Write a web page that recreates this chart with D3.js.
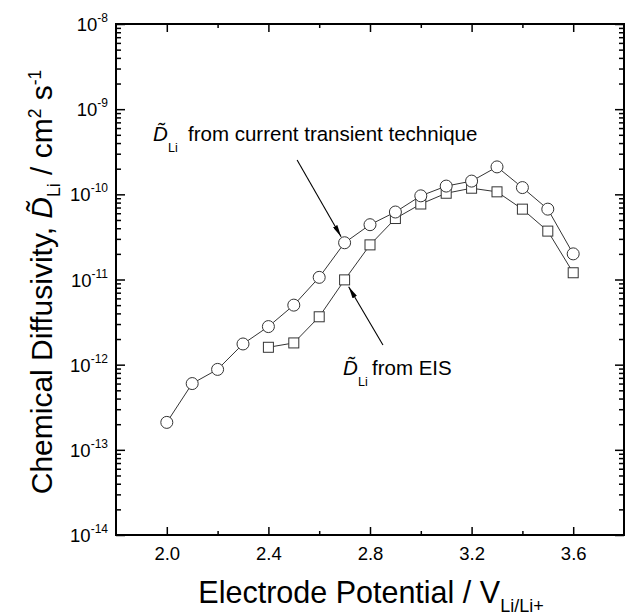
<!DOCTYPE html>
<html>
<head>
<meta charset="utf-8">
<script src="https://cdn.jsdelivr.net/npm/d3@7"></script>
<style>
  body { margin: 0; background: #fff; }
  text { font-family: "Liberation Sans", Arial, Helvetica, sans-serif; fill: #000; }
</style>
</head>
<body>
<svg id="chart" width="625" height="615"></svg>
<script>
// --- data ---
const potentialCT = [2.0, 2.1, 2.2, 2.3, 2.4, 2.5, 2.6, 2.7, 2.8, 2.9, 3.0, 3.1, 3.2, 3.3, 3.4, 3.5, 3.6];
const diffCT = [2.1e-13, 6.0e-13, 8.8e-13, 1.75e-12, 2.8e-12, 5.0e-12, 1.06e-11, 2.7e-11, 4.4e-11,
                6.2e-11, 9.6e-11, 1.25e-10, 1.43e-10, 2.1e-10, 1.2e-10, 6.7e-11, 2.0e-11];
const potentialEIS = [2.4, 2.5, 2.6, 2.7, 2.8, 2.9, 3.0, 3.1, 3.2, 3.3, 3.4, 3.5, 3.6];
const diffEIS = [1.6e-12, 1.8e-12, 3.65e-12, 9.9e-12, 2.55e-11, 5.2e-11, 7.7e-11,
                 1.03e-10, 1.18e-10, 1.07e-10, 6.7e-11, 3.7e-11, 1.2e-11];

const xMajor = [2.0, 2.4, 2.8, 3.2, 3.6];
const xTickLabels = ['2.0', '2.4', '2.8', '3.2', '3.6'];
const xMinor = [2.2, 2.6, 3.0, 3.4];
const yExponents = [-14, -13, -12, -11, -10, -9, -8];

// annotation anchors (data units): arrow tail, and the point it points at
const arrowCT = { from: [2.513, 2.53e-10], idx: 7 };
const arrowEIS = { from: [2.851, 1.70e-12], idx: 3 };

const svg = d3.select('#chart');
const x = d3.scaleLinear().domain([1.8, 3.8]).range([116, 624]);
const y = d3.scaleLog().domain([1e-14, 1e-8]).range([535, 24]);

function styleAxis(g) {
  g.select('.domain').remove();
  g.selectAll('line').attr('stroke', '#000').attr('stroke-width', 1.5);
}

const yMinor = y.ticks().filter(v => !yExponents.some(e => Math.abs(Math.log10(v) - e) < 1e-6));
const yMajor = yExponents.map(e => Math.pow(10, e));

// bottom
svg.append('g').attr('transform', 'translate(0,535)')
  .call(d3.axisBottom(x).tickValues(xMajor).tickFormat((d, i) => xTickLabels[i]).tickSize(-8).tickPadding(12))
  .attr('font-size', 18.5)
  .call(styleAxis);
svg.append('g').attr('transform', 'translate(0,535)')
  .call(d3.axisBottom(x).tickValues(xMinor).tickFormat('').tickSize(-4))
  .call(styleAxis);
// top
svg.append('g').attr('transform', 'translate(0,24)')
  .call(d3.axisTop(x).tickValues(xMajor).tickFormat('').tickSize(-8))
  .call(styleAxis);
svg.append('g').attr('transform', 'translate(0,24)')
  .call(d3.axisTop(x).tickValues(xMinor).tickFormat('').tickSize(-4))
  .call(styleAxis);
// left
svg.append('g').attr('transform', 'translate(116,0)')
  .call(d3.axisLeft(y).tickValues(yMajor).tickFormat('').tickSize(-9))
  .call(styleAxis);
svg.append('g').attr('transform', 'translate(116,0)')
  .call(d3.axisLeft(y).tickValues(yMinor).tickFormat('').tickSize(-5))
  .call(styleAxis);
// right
svg.append('g').attr('transform', 'translate(624,0)')
  .call(d3.axisRight(y).tickValues(yMajor).tickFormat('').tickSize(-9))
  .call(styleAxis);
svg.append('g').attr('transform', 'translate(624,0)')
  .call(d3.axisRight(y).tickValues(yMinor).tickFormat('').tickSize(-5))
  .call(styleAxis);

// frame
svg.append('rect')
  .attr('x', x(1.8)).attr('y', y(1e-8))
  .attr('width', x(3.8) - x(1.8)).attr('height', y(1e-14) - y(1e-8))
  .attr('fill', 'none').attr('stroke', '#000').attr('stroke-width', 2);

// y tick labels 10^n
yExponents.forEach(e => {
  const t = svg.append('text')
    .attr('x', 108).attr('y', y(Math.pow(10, e)) + 7)
    .attr('text-anchor', 'end');
  t.append('tspan').attr('font-size', 18.5).text('10');
  t.append('tspan').attr('font-size', 12).attr('dy', -9).text(String(e));
});

// series
const line = d3.line().x(d => x(d[0])).y(d => y(d[1]));
const ct = potentialCT.map((p, i) => [p, diffCT[i]]);
const eis = potentialEIS.map((p, i) => [p, diffEIS[i]]);

[ct, eis].forEach(s => {
  svg.append('path').attr('d', line(s))
    .attr('fill', 'none').attr('stroke', '#000').attr('stroke-width', 0.8);
});

svg.append('g').selectAll('rect').data(eis).join('rect')
  .attr('x', d => x(d[0]) - 5).attr('y', d => y(d[1]) - 5)
  .attr('width', 10).attr('height', 10)
  .attr('fill', '#fff').attr('stroke', '#333').attr('stroke-width', 1);

svg.append('g').selectAll('circle').data(ct).join('circle')
  .attr('cx', d => x(d[0])).attr('cy', d => y(d[1])).attr('r', 6)
  .attr('fill', '#fff').attr('stroke', '#333').attr('stroke-width', 1);

// arrows
svg.append('defs').append('marker')
  .attr('id', 'arrow').attr('viewBox', '0 0 12 5')
  .attr('refX', 12).attr('refY', 2.5)
  .attr('markerWidth', 12).attr('markerHeight', 5)
  .attr('markerUnits', 'userSpaceOnUse').attr('orient', 'auto')
  .append('path').attr('d', 'M0,0 L12,2.5 L0,5 Z').attr('fill', '#000');

function drawArrow(a, pts, gap) {
  const x0 = x(a.from[0]), y0 = y(a.from[1]);
  const px = x(pts[a.idx][0]), py = y(pts[a.idx][1]);
  const dx = x0 - px, dy = y0 - py, len = Math.hypot(dx, dy);
  svg.append('line')
    .attr('x1', x0).attr('y1', y0)
    .attr('x2', px + dx / len * gap).attr('y2', py + dy / len * gap)
    .attr('stroke', '#000').attr('stroke-width', 1.1)
    .attr('marker-end', 'url(#arrow)');
}
drawArrow(arrowCT, ct, 7);
drawArrow(arrowEIS, eis, 8);

// annotation labels
function dLabel(xd, yb, rest, restX) {
  svg.append('text').attr('x', xd).attr('y', yb)
    .attr('font-size', 20.5).attr('font-style', 'italic').text('D\u0303');
  svg.append('text').attr('x', xd + 15).attr('y', yb + 11)
    .attr('font-size', 12.5).text('Li');
  svg.append('text').attr('x', restX).attr('y', yb)
    .attr('font-size', 20.5).text(rest);
}
dLabel(153, 141, 'from current transient technique', 188);
dLabel(343, 375, 'from EIS', 372);

// axis titles
const xt = svg.append('text').attr('x', 371).attr('y', 603)
  .attr('text-anchor', 'middle').attr('font-size', 30.5);
xt.append('tspan').text('Electrode Potential / V');
xt.append('tspan').attr('font-size', 18).attr('dy', 9).text('Li/Li+');

const yt = svg.append('text')
  .attr('transform', 'translate(52,282) rotate(-90)')
  .attr('text-anchor', 'middle').attr('font-size', 30);
yt.append('tspan').text('Chemical Diffusivity, ');
yt.append('tspan').attr('font-style', 'italic').text('D\u0303');
yt.append('tspan').attr('font-size', 17.5).attr('dy', 8).text('Li');
yt.append('tspan').attr('dy', -8).text(' / cm');
yt.append('tspan').attr('font-size', 17.5).attr('dy', -11).text('2');
yt.append('tspan').attr('dy', 11).text(' s');
yt.append('tspan').attr('font-size', 17.5).attr('dy', -11).text('-1');
</script>
</body>
</html>
